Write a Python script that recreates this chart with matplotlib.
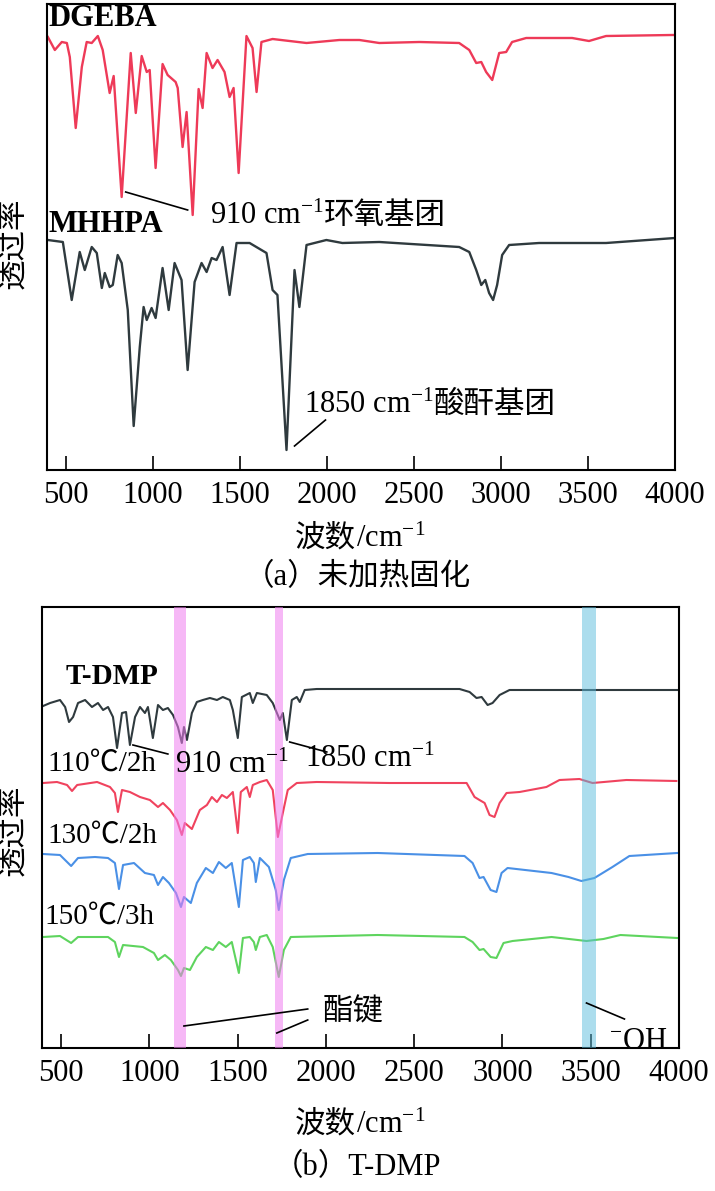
import matplotlib.pyplot as plt

# (a) uncured: wavenumber (cm-1) and transmittance (a.u.)
dgeba_wn = [397, 437, 477, 506, 523, 557, 592, 620, 649, 684, 712, 752, 775, 821, 873, 902, 936, 965, 982,
            1016, 1056, 1085, 1131, 1143, 1171, 1194, 1229, 1263, 1286, 1309, 1343, 1372, 1412, 1441, 1464,
            1493, 1538, 1573, 1596, 1624, 1688, 1883, 2072, 2187, 2301, 2531, 2760, 2818, 2858, 2887, 2915,
            2950, 2990, 3030, 3064, 3145, 3409, 3506, 3604, 3982, 4000]
dgeba_t = [433, 420, 428, 427, 413, 342, 403, 428, 427, 434, 420, 377, 394, 273, 417, 357, 414, 398, 400,
           302, 406, 395, 388, 382, 323, 358, 255, 381, 362, 417, 402, 410, 398, 373, 382,
           297, 434, 422, 378, 428, 431, 427, 430, 430, 427, 428, 427, 420, 407, 408, 398,
           390, 417, 418, 428, 432, 432, 429, 434, 435, 435]

mhhpa_wn = [397, 483, 534, 580, 609, 649, 678, 707, 724, 752, 770, 798, 821, 856, 890, 925, 947, 965, 993,
            1016, 1056, 1091, 1125, 1165, 1200, 1240, 1280, 1309, 1338, 1366, 1401, 1441, 1481, 1556, 1653,
            1688, 1716, 1768, 1814, 1842, 1883, 1997, 2089, 2301, 2760, 2818, 2858, 2887, 2910, 2932, 2955,
            2978, 3007, 3047, 3219, 3604, 4000]
mhhpa_t = [230, 228, 170, 218, 200, 223, 217, 182, 197, 183, 185, 215, 207, 160, 44, 123, 163, 150, 162,
           152, 202, 160, 207, 190, 100, 188, 207, 198, 212, 210, 223, 175, 227, 227, 217,
           180, 175, 20, 200, 163, 225, 230, 227, 228, 223, 218, 200, 185, 190, 177, 170,
           185, 215, 225, 227, 227, 232]

# (b) T-DMP curing stages
tdmp_wn = [398, 438, 494, 523, 545, 568, 596, 636, 675, 709, 738, 766, 794, 817, 845, 868, 890, 919, 947,
           975, 992, 1020, 1049, 1077, 1105, 1134, 1162, 1184, 1196, 1213, 1241, 1269, 1303, 1343, 1383,
           1416, 1456, 1473, 1501, 1524, 1569, 1586, 1609, 1665, 1699, 1739, 1756, 1779, 1807, 1835, 1852,
           1880, 1948, 2191, 2757, 2814, 2853, 2882, 2916, 2944, 2984, 3040, 3549, 4000]
tdmp_t = [342, 345, 348, 341, 326, 331, 345, 348, 341, 345, 338, 341, 331, 300, 335, 336, 303, 331, 341,
          335, 341, 310, 343, 338, 340, 333, 321, 305, 321, 308, 335, 346, 348, 350, 348,
          351, 348, 338, 310, 351, 355, 345, 355, 353, 345, 328, 335, 308, 348, 351, 346,
          358, 359, 359, 359, 356, 350, 351, 343, 345, 353, 358, 358, 358]

c110_wn = [398, 477, 534, 562, 591, 704, 777, 805, 822, 845, 890, 947, 1003, 1049, 1077, 1117, 1156, 1184,
           1201, 1241, 1286, 1326, 1354, 1383, 1411, 1439, 1473, 1501, 1518, 1552, 1569, 1586, 1626, 1665,
           1699, 1728, 1756, 1784, 1835, 1948, 2361, 2797, 2842, 2870, 2899, 2927, 2955, 2984, 3023, 3097,
           3249, 3323, 3436, 3510, 3702, 3985]
c110_t = [265, 266, 263, 257, 263, 266, 261, 255, 236, 258, 256, 251, 248, 241, 245, 238, 228, 213,
          225, 219, 238, 243, 251, 246, 253, 250, 256, 215, 256, 261, 251, 263, 266, 268,
          258, 211, 235, 258, 265, 266, 265, 265, 251, 248, 245, 233, 231, 245, 255, 256,
          261, 268, 269, 265, 268, 267]

c130_wn = [398, 494, 557, 596, 692, 766, 805, 828, 851, 913, 975, 1026, 1049, 1077, 1111, 1151, 1179, 1196,
           1235, 1269, 1320, 1360, 1394, 1433, 1467, 1507, 1530, 1569, 1592, 1603, 1626, 1677, 1716, 1733,
           1762, 1801, 1897, 2293, 2785, 2831, 2870, 2893, 2933, 2966, 2995, 3029, 3278, 3374, 3447, 3521,
           3623, 3719, 3990]
c130_t = [194, 193, 182, 190, 191, 190, 185, 159, 183, 185, 175, 173, 163, 171, 165, 155, 141, 151,
          145, 165, 180, 175, 186, 180, 185, 141, 188, 191, 185, 166, 190, 181, 158, 138,
          168, 190, 194, 195, 192, 185, 170, 171, 158, 156, 175, 180, 175, 171, 167, 170,
          181, 192, 195]

c150_wn = [398, 494, 557, 596, 766, 805, 828, 851, 964, 1026, 1049, 1088, 1122, 1162, 1179, 1196, 1230,
           1269, 1320, 1360, 1394, 1433, 1467, 1507, 1530, 1569, 1592, 1603, 1626, 1665, 1699, 1733, 1762,
           1801, 2044, 2293, 2785, 2831, 2870, 2893, 2933, 2966, 3006, 3057, 3278, 3476, 3572, 3668, 3990]
c150_t = [111, 112, 105, 111, 111, 106, 91, 103, 101, 95, 88, 93, 88, 78, 72, 80, 78,
          91, 101, 98, 106, 101, 106, 75, 110, 111, 106, 98, 111, 113, 101, 71, 98,
          111, 112, 113, 111, 106, 98, 99, 91, 90, 105, 107, 111, 107, 109, 113, 110]

xticks = [500, 1000, 1500, 2000, 2500, 3000, 3500, 4000]
ester_bands = [(1139, 1207), (1710, 1756)]
oh_band = (3452, 3532)

plt.rcParams['font.family'] = ['Liberation Serif', 'Noto Sans CJK SC', 'DejaVu Sans']
plt.rcParams['font.size'] = 22
plt.rcParams['mathtext.fontset'] = 'custom'
plt.rcParams['mathtext.rm'] = 'Liberation Serif'
plt.rcParams['mathtext.it'] = 'Liberation Serif:italic'
plt.rcParams['mathtext.bf'] = 'Liberation Serif:bold'

W, H = 715, 1191
fig = plt.figure(figsize=(W / 100, H / 100), dpi=100)
renderer = fig.canvas.get_renderer()


def make_axes(l, t, r, b):
    ax = fig.add_axes([l / W, 1 - b / H, (r - l) / W, (b - t) / H])
    ax.set_xlim(392, 4000)
    ax.set_xticks(xticks)
    ax.set_xticklabels([str(v) for v in xticks])
    ax.set_yticks([])
    ax.tick_params(axis='x', direction='in', length=10, width=1.2, pad=8, labelsize=22)
    for s in ax.spines.values():
        s.set_linewidth(1.5)
    return ax


def rich(ax, parts, x, y, coords='data', ha='left', size=22, z=5):
    # several pieces on one baseline (math pieces can't fall back to CJK fonts)
    texts = [ax.annotate(p, xy=(x, y), xycoords=coords, xytext=(0, 0), textcoords='offset pixels',
                         fontsize=size, va='baseline', ha='left', annotation_clip=False, zorder=z)
             for p in parts]
    widths = [t.get_window_extent(renderer).width for t in texts]
    start = -sum(widths) / 2 if ha == 'center' else 0
    for t, w in zip(texts, widths):
        t.xyann = (start, 0)
        start += w


red = '#EE3A58'
dark = '#2F3A3E'

# panel (a)
ax1 = make_axes(47, 4, 675, 470)
ax1.set_ylim(0, 466)
ax1.plot(dgeba_wn, dgeba_t, color=red, lw=1.7)
ax1.plot(mhhpa_wn, mhhpa_t, color=dark, lw=1.7)
ax1.text(400, 452, 'DGEBA', fontsize=22, fontweight='bold', va='center')
ax1.text(400, 245, 'MHHPA', fontsize=22, fontweight='bold', va='center')
ax1.plot([844, 1200], [278, 260], color='black', lw=1.2)
rich(ax1, ['910 cm$^{-1}$', '环氧基团'], 1326, 246)
ax1.plot([1814, 1992], [24, 50], color='black', lw=1.2)
rich(ax1, ['1850 cm$^{-1}$', '酸酐基团'], 1871, 57)

# panel (b)
ax2 = make_axes(42, 607, 679, 1048)
ax2.set_ylim(0, 441)
ax2.plot(tdmp_wn, tdmp_t, color=dark, lw=1.5)
ax2.plot(c110_wn, c110_t, color='#F0435E', lw=1.5)
ax2.plot(c130_wn, c130_t, color='#4A90E6', lw=1.5)
ax2.plot(c150_wn, c150_t, color='#5ED45E', lw=1.5)
for lo, hi in ester_bands:
    ax2.axvspan(lo, hi, color='#F07EF0', alpha=0.55, lw=0, zorder=3)
ax2.axvspan(oh_band[0], oh_band[1], color='#5BBCDC', alpha=0.5, lw=0, zorder=3)

ax2.text(523, 372, 'T-DMP', fontsize=21, fontweight='bold', va='center')
ax2.text(420, 284, '110℃/2h', fontsize=21, va='center')
ax2.text(420, 212, '130℃/2h', fontsize=21, va='center')
ax2.text(405, 131, '150℃/3h', fontsize=21, va='center')
ax2.plot([907, 1105], [303, 294], color='black', lw=1.2, zorder=4)
rich(ax2, ['910 cm$^{-1}$'], 1145, 275)
ax2.plot([1795, 2005], [306, 296], color='black', lw=1.2, zorder=4)
rich(ax2, ['1850 cm$^{-1}$'], 1880, 281)
ax2.plot([1196, 1897], [22, 39], color='black', lw=1.2, zorder=4)
ax2.plot([1722, 1897], [15, 28], color='black', lw=1.2, zorder=4)
ax2.text(1982, 35, '酯键', fontsize=22, va='center')
ax2.plot([3476, 3691], [45, 29], color='black', lw=1.2, zorder=4)
rich(ax2, ['$^{-}$OH'], 3606, -1)

# labels (figure pixels, origin bottom-left)
fig.text(15 / W, 1 - 243 / H, '透过率', rotation=90, ha='center', va='center', fontsize=22)
fig.text(15 / W, 1 - 830 / H, '透过率', rotation=90, ha='center', va='center', fontsize=22)
rich(ax1, ['波数', '/cm$^{-1}$'], 360, H - 547, coords='figure pixels', ha='center')
fig.text(357 / W, 1 - 578 / H, '（a）未加热固化', ha='center', va='center', fontsize=22)
rich(ax2, ['波数', '/cm$^{-1}$'], 360, H - 1133, coords='figure pixels', ha='center')
fig.text(357 / W, 1 - 1168 / H, '（b）T-DMP', ha='center', va='center', fontsize=22)

fig.savefig('out.png', dpi=100)
